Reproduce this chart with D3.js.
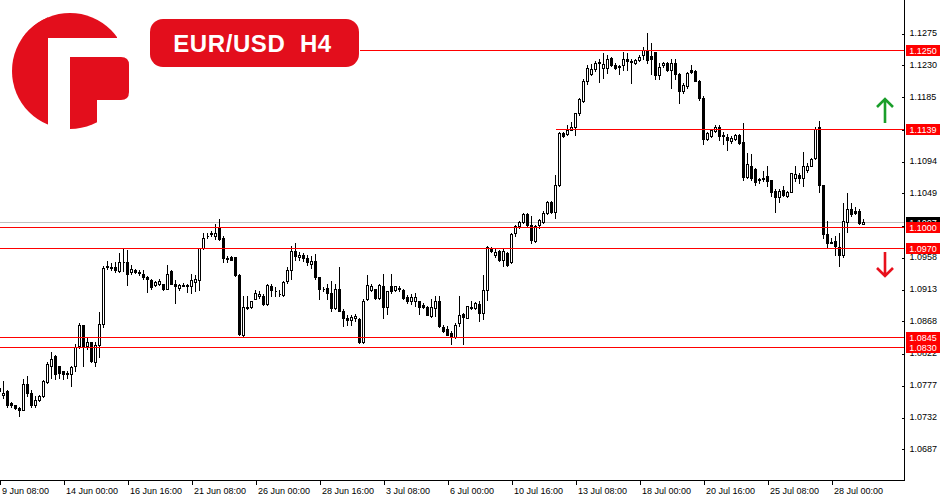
<!DOCTYPE html>
<html><head><meta charset="utf-8">
<script src="https://cdn.jsdelivr.net/npm/d3@7"></script>
<style>html,body{margin:0;padding:0;background:#fff;}svg{display:block;}</style>
</head><body>
<svg id="c" width="950" height="500"></svg>
<script>
// ---------- DATA ----------
const symbol = "EUR/USD";
const timeframe = "H4";
const opens = [1.0768,1.0763,1.0768,1.0751,1.0748,1.0744,1.0742,1.0778,1.0765,1.0749,1.0756,1.0761,1.0781,1.0804,1.0817,1.0803,1.0796,1.0792,1.0792,1.0803,
1.0832,1.0861,1.0832,1.0837,1.0809,1.0833,1.0863,1.0943,1.0943,1.0943,1.0938,1.0950,1.0951,1.0936,1.0939,1.0936,1.0934,1.0929,1.0925,1.0918,
1.0920,1.0919,1.0913,1.0938,1.0920,1.0914,1.0917,1.0917,1.0916,1.0923,1.0925,1.0970,1.0987,1.0990,1.0987,1.0999,1.0985,1.0956,1.0958,1.0957,
1.0932,1.0848,1.0886,1.0887,1.0899,1.0902,1.0902,1.0891,1.0917,1.0910,1.0906,1.0904,1.0924,1.0939,1.0966,1.0957,1.0960,1.0956,1.0948,1.0952,
1.0929,1.0913,1.0914,1.0907,1.0885,1.0913,1.0882,1.0871,1.0869,1.0872,1.0870,1.0837,1.0899,1.0911,1.0912,1.0900,1.0917,1.0887,1.0917,1.0911,
1.0914,1.0911,1.0901,1.0895,1.0896,1.0895,1.0890,1.0887,1.0874,1.0885,1.0895,1.0859,1.0856,1.0850,1.0844,1.0865,1.0877,1.0872,1.0886,1.0886,
1.0891,1.0879,1.0911,1.0971,1.0960,1.0966,1.0954,1.0963,1.0950,1.0991,1.1001,1.1007,1.1019,1.1003,1.0980,1.1003,1.1007,1.1020,1.1035,1.1021,
1.1059,1.1133,1.1131,1.1138,1.1141,1.1161,1.1178,1.1207,1.1216,1.1223,1.1234,1.1225,1.1225,1.1239,1.1229,1.1228,1.1229,1.1238,1.1235,1.1232,
1.1236,1.1243,1.1251,1.1242,1.1247,1.1215,1.1229,1.1232,1.1222,1.1232,1.1216,1.1192,1.1199,1.1222,1.1221,1.1207,1.1183,1.1124,1.1129,1.1136,
1.1141,1.1130,1.1127,1.1122,1.1125,1.1130,1.1120,1.1071,1.1087,1.1082,1.1068,1.1070,1.1072,1.1066,1.1051,1.1042,1.1052,1.1044,1.1050,1.1069,
1.1073,1.1070,1.1081,1.1087,1.1098,1.1141,1.1059,1.0990,1.0979,1.0980,1.0972,1.0961,1.1007,1.1026,1.1023,1.1023,1.1005];
const highs = [1.0783,1.0783,1.0770,1.0753,1.0749,1.0746,1.0785,1.0789,1.0770,1.0761,1.0763,1.0784,1.0809,1.0823,1.0819,1.0804,1.0797,1.0796,1.0804,1.0834,
1.0864,1.0862,1.0845,1.0838,1.0838,1.0880,1.0945,1.0952,1.0949,1.0950,1.0964,1.0970,1.0968,1.0946,1.0941,1.0939,1.0940,1.0931,1.0926,1.0924,
1.0926,1.0920,1.0946,1.0940,1.0925,1.0919,1.0921,1.0920,1.0934,1.0932,1.0971,1.0991,1.0992,1.0994,1.1004,1.1012,1.0988,1.0959,1.0959,1.0958,
1.0933,1.0902,1.0902,1.0896,1.0911,1.0909,1.0906,1.0919,1.0920,1.0915,1.0911,1.0924,1.0943,1.0973,1.0977,1.0965,1.0964,1.0960,1.0959,1.0962,
1.0930,1.0915,1.0920,1.0924,1.0920,1.0943,1.0884,1.0876,1.0876,1.0877,1.0872,1.0898,1.0932,1.0919,1.0913,1.0919,1.0933,1.0910,1.0934,1.0917,
1.0917,1.0912,1.0904,1.0905,1.0907,1.0896,1.0893,1.0888,1.0898,1.0902,1.0902,1.0861,1.0860,1.0853,1.0865,1.0902,1.0878,1.0889,1.0895,1.0894,
1.0895,1.0932,1.0973,1.0972,1.0969,1.0967,1.0971,1.0965,1.0991,1.1003,1.1009,1.1020,1.1020,1.1015,1.1003,1.1011,1.1023,1.1037,1.1037,1.1073,
1.1134,1.1134,1.1145,1.1148,1.1162,1.1183,1.1209,1.1229,1.1230,1.1235,1.1238,1.1246,1.1244,1.1240,1.1232,1.1229,1.1248,1.1246,1.1238,1.1237,
1.1244,1.1255,1.1275,1.1261,1.1248,1.1232,1.1233,1.1233,1.1238,1.1238,1.1218,1.1204,1.1219,1.1229,1.1222,1.1208,1.1185,1.1135,1.1139,1.1144,
1.1145,1.1134,1.1131,1.1129,1.1131,1.1131,1.1147,1.1105,1.1103,1.1083,1.1070,1.1079,1.1087,1.1067,1.1054,1.1054,1.1058,1.1051,1.1077,1.1086,
1.1077,1.1106,1.1090,1.1098,1.1141,1.1150,1.1060,1.1009,1.0984,1.0987,1.0992,1.1034,1.1048,1.1034,1.1028,1.1025,1.1011];
const lows = [1.0756,1.0758,1.0745,1.0745,1.0743,1.0733,1.0741,1.0761,1.0745,1.0745,1.0754,1.0760,1.0780,1.0787,1.0785,1.0787,1.0785,1.0787,1.0775,1.0797,
1.0829,1.0803,1.0827,1.0809,1.0804,1.0816,1.0859,1.0941,1.0940,1.0936,1.0936,1.0938,1.0918,1.0933,1.0935,1.0932,1.0926,1.0908,1.0913,1.0917,
1.0918,1.0911,1.0912,1.0920,1.0893,1.0911,1.0916,1.0908,1.0907,1.0909,1.0911,1.0969,1.0985,1.0987,1.0983,1.0982,1.0950,1.0951,1.0953,1.0931,
1.0848,1.0846,1.0884,1.0886,1.0899,1.0900,1.0890,1.0890,1.0902,1.0902,1.0902,1.0902,1.0921,1.0926,1.0953,1.0954,1.0952,1.0947,1.0942,1.0926,
1.0898,1.0909,1.0898,1.0882,1.0884,1.0881,1.0860,1.0862,1.0862,1.0867,1.0836,1.0836,1.0897,1.0910,1.0899,1.0899,1.0871,1.0877,1.0907,1.0910,
1.0910,1.0899,1.0892,1.0891,1.0889,1.0877,1.0885,1.0875,1.0873,1.0874,1.0858,1.0852,1.0847,1.0834,1.0843,1.0860,1.0834,1.0871,1.0884,1.0884,
1.0867,1.0870,1.0897,1.0965,1.0957,1.0952,1.0945,1.0945,1.0949,1.0987,1.0998,1.1006,1.1002,1.0978,1.0979,1.0999,1.1006,1.1019,1.1020,1.1013,
1.1058,1.1127,1.1130,1.1137,1.1130,1.1159,1.1177,1.1203,1.1215,1.1221,1.1205,1.1211,1.1218,1.1228,1.1224,1.1216,1.1222,1.1222,1.1204,1.1231,
1.1235,1.1238,1.1232,1.1216,1.1209,1.1210,1.1227,1.1221,1.1196,1.1210,1.1176,1.1190,1.1197,1.1218,1.1206,1.1180,1.1118,1.1123,1.1128,1.1134,
1.1123,1.1118,1.1109,1.1119,1.1123,1.1117,1.1067,1.1070,1.1067,1.1060,1.1062,1.1065,1.1058,1.1044,1.1021,1.1035,1.1044,1.1043,1.1049,1.1065,
1.1063,1.1058,1.1078,1.1086,1.1096,1.1049,1.0984,1.0971,1.0977,1.0960,1.0945,1.0958,1.0993,1.1016,1.1019,1.1005,1.1005];
const closes = [1.0773,1.0766,1.0749,1.0748,1.0744,1.0741,1.0778,1.0765,1.0748,1.0756,1.0761,1.0782,1.0807,1.0814,1.0792,1.0793,1.0792,1.0793,1.0802,1.0831,
1.0862,1.0832,1.0838,1.0811,1.0833,1.0863,1.0942,1.0945,1.0942,1.0939,1.0951,1.0951,1.0934,1.0941,1.0936,1.0935,1.0929,1.0926,1.0915,1.0922,
1.0924,1.0913,1.0933,1.0920,1.0916,1.0918,1.0918,1.0918,1.0925,1.0926,1.0970,1.0985,1.0988,1.0991,1.0992,1.0983,1.0956,1.0955,1.0954,1.0932,
1.0849,1.0887,1.0887,1.0895,1.0907,1.0906,1.0891,1.0918,1.0911,1.0909,1.0905,1.0923,1.0940,1.0966,1.0959,1.0961,1.0956,1.0950,1.0952,1.0929,
1.0912,1.0912,1.0907,1.0885,1.0913,1.0882,1.0872,1.0869,1.0873,1.0874,1.0837,1.0896,1.0918,1.0917,1.0900,1.0918,1.0887,1.0909,1.0909,1.0916,
1.0913,1.0900,1.0896,1.0901,1.0901,1.0887,1.0887,1.0876,1.0887,1.0895,1.0860,1.0853,1.0848,1.0844,1.0862,1.0875,1.0873,1.0888,1.0887,1.0892,
1.0878,1.0911,1.0972,1.0966,1.0965,1.0953,1.0966,1.0947,1.0990,1.1002,1.1007,1.1019,1.1003,1.0982,1.1002,1.1010,1.1020,1.1035,1.1021,1.1059,
1.1133,1.1129,1.1138,1.1141,1.1161,1.1181,1.1207,1.1225,1.1223,1.1232,1.1232,1.1231,1.1238,1.1229,1.1225,1.1227,1.1238,1.1235,1.1234,1.1236,
1.1241,1.1251,1.1236,1.1238,1.1215,1.1227,1.1232,1.1222,1.1232,1.1217,1.1192,1.1201,1.1218,1.1219,1.1207,1.1182,1.1125,1.1133,1.1137,1.1141,
1.1129,1.1129,1.1123,1.1126,1.1130,1.1119,1.1071,1.1089,1.1069,1.1064,1.1067,1.1068,1.1065,1.1050,1.1042,1.1051,1.1046,1.1050,1.1076,1.1075,
1.1070,1.1086,1.1087,1.1096,1.1139,1.1059,1.0990,1.0978,1.0978,1.0973,1.0961,1.1009,1.1025,1.1018,1.1020,1.1006,1.1007];
const timeLabels = ["9 Jun 08:00","14 Jun 00:00","16 Jun 16:00","21 Jun 08:00","26 Jun 00:00","28 Jun 16:00","3 Jul 08:00","6 Jul 00:00","10 Jul 16:00","13 Jul 08:00","18 Jul 00:00","20 Jul 16:00","25 Jul 08:00","28 Jul 00:00"];
const barsPerTimeLabel = 16;
const priceTickLabels = ["1.1275","1.1230","1.1185","1.1139","1.1094","1.1049","1.1003","1.0958","1.0913","1.0868","1.0822","1.0777","1.0732","1.0687"];
const levels = [1.1250, 1.1139, 1.1000, 1.0970, 1.0845, 1.0830];
const levelStartBar = [90, 139, 0, 0, 0, 0];

// ---------- CHART ----------
const svg = d3.select("#c");
const W = 950, H = 500;
const plotRight = 904, plotBottom = 480;
const RED = "#ff0000", BRAND = "#e30e1c";
const n = opens.length;
const candles = d3.range(n).map(i => ({i, o: opens[i], h: highs[i], l: lows[i], c: closes[i]}));

const x = d3.scaleLinear().domain([0, n - 1]).range([-0.5, -0.5 + 4 * (n - 1)]);
const y = d3.scaleLinear().domain([1.0830, 1.1250]).range([347.3, 50.3]);
const py = v => Math.round(y(v));

svg.append("rect").attr("width", W).attr("height", H).attr("fill", "#fff");

const plot = svg.append("g").attr("shape-rendering", "crispEdges");

// current price (bid) line
const last = closes[n - 1];
plot.append("line").attr("x1", 0).attr("x2", plotRight).attr("y1", py(last) + 0.5).attr("y2", py(last) + 0.5)
  .attr("stroke", "#c0c0c0").attr("stroke-width", 1);

// candles
const cg = plot.append("g");
cg.selectAll("line.wick").data(candles).join("line").attr("class", "wick")
  .attr("x1", d => x(d.i)).attr("x2", d => x(d.i))
  .attr("y1", d => py(d.h)).attr("y2", d => py(d.l) + 1)
  .attr("stroke", "#000").attr("stroke-width", 1);
cg.selectAll("path.body").data(candles).join("path").attr("class", "body")
  .attr("d", d => {
    const t = py(Math.max(d.o, d.c)) + 0.5, b = py(Math.min(d.o, d.c)) + 0.5;
    const x0 = x(d.i) - 1, x1 = x(d.i) + 1;
    return `M${x0},${t}H${x1}V${b}H${x0}Z`;
  })
  .attr("fill", d => d.c < d.o ? "#000" : "#fff")
  .attr("stroke", "#000").attr("stroke-width", 1);

// horizontal levels
plot.selectAll("line.level").data(levels).join("line").attr("class", "level")
  .attr("x1", (d, i) => levelStartBar[i] === 0 ? 0 : x(levelStartBar[i]))
  .attr("x2", plotRight)
  .attr("y1", d => py(d) + 0.5).attr("y2", d => py(d) + 0.5)
  .attr("stroke", RED).attr("stroke-width", 1);

// axes
const font = "'Liberation Sans', Arial, sans-serif";
const yAxis = d3.axisRight(y).tickValues(priceTickLabels.map(Number))
  .tickFormat((d, i) => priceTickLabels[i]).tickSizeInner(-3).tickSizeOuter(0).tickPadding(5);
const ya = svg.append("g").attr("transform", `translate(${plotRight + 0.5},0)`).call(yAxis);
ya.select(".domain").remove();
ya.selectAll("line").attr("stroke", "#000").attr("shape-rendering", "crispEdges")
  .attr("transform", d => `translate(0,${Math.round(y(d)) + 0.5 - y(d)})`);
ya.selectAll("text").attr("font-family", font).attr("font-size", 9).attr("fill", "#000");

const xAxis = d3.axisBottom(x).tickValues(timeLabels.map((t, i) => i * barsPerTimeLabel))
  .tickFormat((d, i) => timeLabels[i]).tickSizeInner(4).tickSizeOuter(0).tickPadding(3);
const xa = svg.append("g").attr("transform", `translate(0,${plotBottom + 0.5})`).call(xAxis);
xa.select(".domain").remove();
xa.selectAll("line").attr("stroke", "#000").attr("shape-rendering", "crispEdges");
xa.selectAll("text").attr("font-family", font).attr("font-size", 9).attr("fill", "#000")
  .attr("text-anchor", "start").attr("x", 2);

// frame lines
svg.append("line").attr("x1", plotRight + 0.5).attr("x2", plotRight + 0.5).attr("y1", 0).attr("y2", plotBottom + 1)
  .attr("stroke", "#000").attr("shape-rendering", "crispEdges");
svg.append("line").attr("x1", 0).attr("x2", plotRight + 1).attr("y1", plotBottom + 0.5).attr("y2", plotBottom + 0.5)
  .attr("stroke", "#000").attr("shape-rendering", "crispEdges");

// price labels on axis
const lab = svg.append("g");
function priceBox(v, fill) {
  const yy = py(v) + 0.5;
  lab.append("rect").attr("x", 906).attr("y", yy - 5.5).attr("width", 34).attr("height", 11)
    .attr("fill", fill).attr("shape-rendering", "crispEdges");
  lab.append("text").attr("x", 923).attr("y", yy).attr("dy", "0.35em").attr("text-anchor", "middle")
    .attr("font-family", font).attr("font-size", 9).attr("fill", "#fff").text(d3.format(".4f")(v));
}
priceBox(last, "#000");
levels.forEach(v => priceBox(v, RED));

// arrows
const ar = svg.append("g").attr("fill", "none").attr("stroke-width", 2.6).attr("stroke-linecap", "butt");
ar.append("path").attr("d", "M885,123V99M877,107L885,99L893,107").attr("stroke", "#1a9e2a");
ar.append("path").attr("d", "M885,252V276M877,268L885,276L893,268").attr("stroke", "#e8101c");

// title box
svg.append("rect").attr("x", 150).attr("y", 19).attr("width", 209).attr("height", 48).attr("rx", 13)
  .attr("fill", BRAND);
svg.append("text").attr("x", 252.5).attr("y", 52).attr("text-anchor", "middle")
  .attr("font-family", font).attr("font-weight", "bold").attr("font-size", 24).attr("letter-spacing", 0.6)
  .attr("fill", "#fff").style("white-space", "pre").text(symbol + "  " + timeframe);

// logo
const logo = svg.append("g");
const cx = 70, cy = 71, r = 58;
logo.append("clipPath").attr("id", "lc").append("circle").attr("cx", cx).attr("cy", cy).attr("r", r);
const lg = logo.append("g").attr("clip-path", "url(#lc)");
lg.append("rect").attr("x", 0).attr("y", 0).attr("width", 48).attr("height", 140).attr("fill", BRAND);
lg.append("rect").attr("x", 0).attr("y", 0).attr("width", 117).attr("height", 38).attr("fill", BRAND);
lg.append("rect").attr("x", 70).attr("y", 57).attr("width", 27).attr("height", 90).attr("fill", BRAND);
logo.append("path").attr("d", "M70,57H121Q129,57 129,65V92Q129,100 121,100H70Z").attr("fill", BRAND);
</script>
</body></html>
